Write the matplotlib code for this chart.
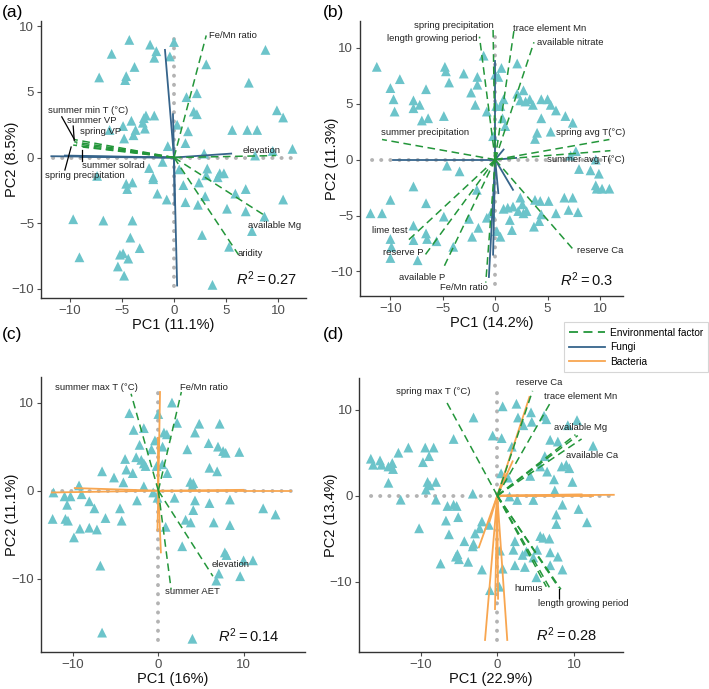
import numpy as np
import matplotlib.pyplot as plt
from matplotlib.lines import Line2D

plt.rcParams['font.family'] = ['Liberation Sans', 'DejaVu Sans']
plt.rcParams['mathtext.fontset'] = 'custom'
plt.rcParams['mathtext.rm'] = 'Liberation Sans'
plt.rcParams['mathtext.it'] = 'Liberation Sans:italic'

# ---------------- panel (a): fungi ----------------
a_pc1 = [-4.3, -2.3, 0.0, -6.0, -1.7, -1.9, -0.4, 8.8, -3.8, -7.2, -4.6, -4.7, 3.1, 7.2, 1.2, 2.2,
         1.9, 2.2, 1.35, 0.3, 1.1, -0.6, 5.6, 7.05, 8.0, 9.9, 10.5, 11.4, 9.5, 7.8, 2.9, -2.7,
         -2.9, -3.0, -1.9, -4.1, -3.7, -3.9, -2.8, -4.9, -4.8, -6.2, -1.1, -2.4, -2.0, -2.0,
         -4.6, -4.0, -4.5, -7.4, -1.6, -0.7, 0.5, 0.9, 2.4, 1.1, 2.3, 3.0, 3.2, 3.1, 4.4, 4.8,
         4.2, 5.9, 6.9, 5.1, 6.9, 10.5, 8.7, 7.5, 2.7, 5.3, 3.7, -9.7, -6.8, -4.0, -9.1, -4.2,
         -3.3, -5.2, -4.9, -4.4, -5.4, -4.8]
a_pc2 = [8.96, 8.6, 8.8, 7.9, 8.1, 7.6, 7.7, 8.2, 6.9, 6.1, 6.2, 5.9, 7.1, 5.7, 4.6, 4.9,
         3.5, 3.3, 2.0, 2.5, 1.1, 0.87, 2.1, 2.1, 2.1, 3.6, 3.05, 0.66, 0.5, 0.15, 0.3, 3.2,
         3.0, 2.65, 3.2, 2.8, 2.1, 1.7, 2.2, 2.4, 1.45, 2.1, -0.33, -0.8, -1.5, -1.65,
         -2.0, -1.9, -2.4, -1.4, -2.75, -3.2, -0.9, -2.1, -1.9, -3.4, -3.6, -2.95, -0.84, -1.35, -1.2, -1.2,
         -1.5, -2.75, -2.4, -3.9, -4.1, -3.2, -4.5, -5.6, -5.9, -6.8, -9.7, -4.7, -4.8, -4.8, -7.6, -6.1,
         -6.9, -7.4, -7.3, -7.7, -8.3, -9.0]
a_taxa_x = [-11.8, -10.5, -9.0, 5.5, -0.87, -0.1, 0.3, 0.05]
a_taxa_y = [0.1, 0.15, 0.05, 0.3, 8.2, 3.3, -9.75, -3.6]
a_env_x = [3.1, 9.8, 8.9, 6.2, -9.6, -9.6, -9.4, -8.8, -9.7]
a_env_y = [9.3, 0.15, -4.5, -7.4, 1.37, 1.2, 1.05, 0.8, 0.95]
a_env_names = ["Fe/Mn ratio", "elevation", "available Mg", "aridity", "summer min T (°C)",
               "summer VP", "spring VP", "summer solrad", "spring precipitation"]

# ---------------- panel (b): fungi ----------------
b_pc1 = [-11.3, -9.1, -10.0, -9.7, -9.6, -7.8, -7.8, -7.2, -7.0, -6.4, -6.6, -4.8, -4.7, -4.4, -3.0,
         -1.7, -1.7, -2.3, -1.9, -4.9, -1.1, -0.8, -0.2, 0.0, 0.3, 0.6, 2.1, 0.1, 0.5, 0.8, 0.7, 0.96,
         2.1, 2.7, 2.4, 2.9, 3.3, 3.6, 4.4, 5.0, 5.3, 5.8, 4.4, 5.3, 4.0, 3.8, 6.7, 7.4, 7.7, 7.2,
         8.0, 9.1, 9.6, 9.9, 9.6, 9.7, 10.2, 10.9, -4.6, -3.4, -1.75, -7.8, -10.0, -11.9, -10.8,
         -6.6, -4.9, -7.8, -7.8, -6.6, -6.5, -5.6, -10.0, -9.9, -10.0, -7.4, -4.0, -2.5, -1.6, -2.2,
         -0.8, -0.4, 0.16, 0.5, 0.8, 1.2, 1.7, 1.4, 1.6, 2.4, 2.6, 2.2, 2.7, 3.0, 3.8, 4.3, 3.7, 4.2,
         5.1, 4.4, 5.8, 6.6, 7.4, 7.0, 7.9]
b_pc2 = [8.3, 7.2, 6.4, 5.4, 4.3, 5.3, 4.6, 4.9, 3.5, 3.7, 6.3, 8.3, 7.9, 6.9, 7.7,
         7.4, 6.7, 6.0, 4.9, 3.9, 9.3, 4.3, 2.1, 7.6, 7.4, 8.2, 8.6, 4.8, 4.8, 5.4, 3.7, 3.0,
         5.9, 6.2, 5.3, 5.2, 5.4, 4.9, 5.4, 5.4, 4.9, 4.4, 3.7, 2.5, 2.4, 1.85, 3.9, 3.3, 0.75, 0.36,
         -0.84, -0.96, 0.0, -1.26, -2.3, -2.6, -2.6, -2.6, -0.54, -1.05, -2.7, -2.4, -3.6, -4.8, -4.8,
         -3.9, -5.1, -5.9, -7.2, -6.6, -7.1, -7.3, -7.1, -7.8, -8.8, -9.0, -7.8, -5.3, -6.1, -6.9,
         -5.2, -4.8, -6.4, -6.9, -4.4, -4.3, -4.2, -5.4, -6.3, -3.4, -4.0, -4.6, -4.8, -4.6, -3.6, -3.7, -6.0, -5.5,
         -3.7, -4.9, -4.8, -3.4, -3.4, -4.5, -4.7]
b_taxa_x = [-9.8, 0.0, -0.6, -0.2, 1.7, 0.8, 2.0, 0.3]
b_taxa_y = [0.0, 8.8, -10.5, -8.5, -2.7, 0.9, 0.15, -3.0]
b_env_x = [-0.2, -1.5, 1.8, 3.7, -10.8, 10.9, 11.0, 7.6, -8.4, -6.9, -5.0, -0.9]
b_env_y = [11.6, 11.0, 11.6, 10.5, 1.8, 1.8, 0.8, -8.2, -7.3, -8.8, -9.8, -11.0]
b_env_names = ["spring precipitation", "length growing period", "trace element Mn",
               "available nitrate", "summer precipitation", "spring avg T(°C)",
               "summer avg T(°C)", "reserve Ca", "lime test", "reserve P", "available P",
               "Fe/Mn ratio"]

# ---------------- panel (c): bacteria ----------------
c_pc1 = [1.6, 0.0, -3.4, 2.2, 4.8, 7.2, 4.3, 0.66, 1.0, -2.9, -1.7, -0.4, 0.5, -2.2, 5.9, 7.0,
         7.6, 7.9, 9.5, 3.4, -0.8, -3.9, -2.6, -2.0, -1.7, -1.5, -0.2, 0.47, 1.05, -3.75, -3.0,
         -6.6, -5.2, -4.1, 6.0, 6.9, 3.75, 4.1, 4.0, -1.7, -0.6, -0.1, -9.3, -12.3, -11.0, -10.3,
         -10.7, -9.0, -8.1, -7.5, -6.2, -4.5, -4.3, -12.4, -10.9, -10.6, -9.2, -8.1, -7.2, -9.9,
         -2.5, 1.9, 0.86, 2.8, 3.2, 3.8, 4.3, 4.1, 6.0, 6.5, 8.4, 8.4, 7.8, 8.0, 10.0, 11.1, 9.6,
         7.1, 6.8, 12.3, 13.75, -6.8, -6.6, 4.0]
c_pc2 = [10.0, 8.7, 8.8, 7.7, 7.6, 7.6, 6.6, 6.6, 6.4, 6.9, 7.1, 5.7, 5.0, 5.2, 5.4, 5.0,
         4.5, 4.3, 4.4, 4.7, 4.7, 3.6, 3.8, 3.5, 3.1, 2.8, 2.8, 3.0, 2.0, 2.4, 2.0,
         2.2, 1.5, 0.95, 2.6, 2.2, 1.0, 0.87, 0.57, 0.5, -0.2, -0.8, 0.6, -0.2, -0.64, -0.64,
         -1.6, -0.4, -1.2, -2.0, -3.1, -2.0, -3.4, -3.2, -3.2, -3.4, -4.3, -4.2, -4.4, -5.3,
         -1.1, -0.8, -4.1, -6.3, -3.3, -3.6, -1.1, -2.2, -1.4, -3.6, -1.0, -3.9, -7.0, -7.3, -7.9, -7.9, -9.7,
         -9.4, -10.2, -2.0, -2.7, -8.5, -16.1, -16.8]
c_taxa_x = [-12.5, -9.8, 15.6, 10.0, 0.2, 0.0, 0.3, -0.1]
c_taxa_y = [-0.2, 0.3, 0.0, 0.1, 11.2, 6.0, -7.0, -4.5]
c_env_x = [-3.2, 2.7, 6.4, 1.5]
c_env_y = [11.0, 11.2, -9.7, -11.2]
c_env_names = ["summer max T (°C)", "Fe/Mn ratio", "elevation", "summer AET"]

# ---------------- panel (d): bacteria ----------------
d_pc1 = [-16.5, -16.2, -15.3, -15.1, -14.2, -13.7, -13.6, -14.2, -12.9, -11.6, -12.6, -9.4, -8.3, -8.9,
         -9.7, -9.1, -8.8, -8.0, -9.3, -8.0, -10.2, -7.4, -5.7, -6.5, -5.7, -5.3, -6.7, -6.3, -5.1,
         -5.2, -5.4, -5.0, -4.3, -3.8, -3.1, -3.2, -3.1, -2.9, -3.2, -2.0, -2.3, -1.1, -2.0, -0.96,
         -0.6, 0.57, 0.7, 2.5, 1.9, 0.5, 1.4, 0.26, 0.35, 0.7, 1.6, 2.6, 4.7, 2.3, 2.1, 2.3, 3.3, 3.6,
         4.3, 5.6, 6.2, 6.5, 6.9, 7.9, 2.7, 3.4, 4.4, 4.5, 6.1, 6.4, 9.2, 10.4, 12.5, 8.4, 9.0, 9.4,
         9.8, 7.4, 7.5, 8.5, 10.6, 11.7, 7.7, 7.7, 5.6, 6.0, 6.8, 5.2, 6.9, 4.7, 6.9, 7.9, 8.5, 5.1, 3.8]
d_pc2 = [4.3, 3.6, 4.1, 3.6, 3.4, 3.8, 3.1, 1.5, 5.0, 5.6, -0.47, 5.6, 5.6, 4.6,
         3.9, 1.6, 1.2, 1.6, 0.7, -0.47, -3.8, -7.9, 6.6, -1.2, -1.05, -1.2, -2.9, -4.5, -2.5,
         -6.8, -7.1, -7.4, -5.3, -7.7, 9.1, 0.23, -5.6, -4.4, -5.9, -3.0, -3.8, -3.4, -8.6, -11.0,
         7.0, 6.7, 10.4, 10.7, 5.7, 2.6, 2.1, -10.6, -6.4, -8.5, -0.1, -0.5, -0.5, -5.3, -6.3, -8.1, -6.9, -8.3,
         2.3, 3.4, 4.6, 2.8, 6.5, 6.3, 9.1, 8.2, 9.7, 8.6, 9.3, 8.9, 8.2, 8.8, 5.8, 3.4, 3.6, 3.2,
         1.6, 1.9, 0.6, -1.05, -1.55, -3.1, -2.2, -3.3, -4.7, -4.9, -5.0, -6.3, -6.6, -7.2, -8.1, -7.1, -8.6, -9.5, -6.5]
d_taxa_x = [15.2, 11.0, 12.5, 4.2, 2.0, 1.2, -1.6, 1.3, -0.3, 0.1, -2.4, -1.0]
d_taxa_y = [0.1, 0.15, 0.0, 11.5, 4.0, 2.5, -16.8, -16.8, -13.2, -12.0, -6.0, -3.0]
d_env_x = [-6.8, 4.6, 7.1, 10.5, 11.0, 10.2, 7.0, 8.0, 6.4, 8.3]
d_env_y = [11.2, 12.2, 11.1, 7.0, 6.6, 7.1, -11.0, -10.7, -10.6, -10.9]
d_env_names = ["spring max T (°C)", "reserve Ca", "trace element Mn", "available Mg", "available Ca",
               "", "humus", "length growing period", "", ""]

r2_values = ["0.27", "0.3", "0.14", "0.28"]
pc1_labels = ["PC1 (11.1%)", "PC1 (14.2%)", "PC1 (16%)", "PC1 (22.9%)"]
pc2_labels = ["PC2 (8.5%)", "PC2 (11.3%)", "PC2 (11.1%)", "PC2 (13.4%)"]

# label placement (ggrepel-like) : name -> (x, y, ha)
a_lab = {"Fe/Mn ratio": (3.4, 9.3, "left"), "elevation": (6.6, 0.5, "left"),
         "available Mg": (7.15, -5.2, "left"), "aridity": (6.1, -7.3, "left"),
         "summer min T (°C)": (-12.1, 3.6, "left"), "summer VP": (-10.3, 2.8, "left"),
         "spring VP": (-9.0, 1.95, "left"), "summer solrad": (-8.9, -0.64, "left"),
         "spring precipitation": (-12.4, -1.35, "left")}
a_leaders = [((-10.8, 3.1), (-9.6, 1.4)), ((-9.7, 2.4), (-9.6, 1.3)),
             ((-10.5, -0.95), (-9.9, 0.8)), ((-8.9, -0.3), (-8.9, 0.6))]
b_lab = {"spring precipitation": (-0.1, 12.0, "right"), "length growing period": (-1.7, 10.8, "right"),
         "trace element Mn": (1.7, 11.7, "left"), "available nitrate": (4.0, 10.5, "left"),
         "summer precipitation": (-10.9, 2.4, "left"), "spring avg T(°C)": (5.8, 2.4, "left"),
         "summer avg T(°C)": (4.9, 0.0, "left"), "reserve Ca": (7.8, -8.1, "left"),
         "lime test": (-11.8, -6.3, "left"), "reserve P": (-10.7, -8.3, "left"),
         "available P": (-9.2, -10.55, "left"), "Fe/Mn ratio": (-5.3, -11.4, "left")}
c_lab = {"summer max T (°C)": (-12.1, 11.7, "left"), "Fe/Mn ratio": (2.6, 11.7, "left"),
         "elevation": (6.3, -8.4, "left"), "summer AET": (0.8, -11.4, "left")}
d_lab = {"spring max T (°C)": (-13.2, 12.1, "left"), "reserve Ca": (2.4, 13.2, "left"),
         "trace element Mn": (6.1, 11.6, "left"), "available Mg": (7.4, 7.9, "left"),
         "available Ca": (9.0, 4.7, "left"), "humus": (2.2, -10.8, "left"),
         "length growing period": (5.3, -12.5, "left")}
d_leaders = [((8.0, -10.9), (8.0, -11.9))]

GREEN = "#23963a"
BLUE = "#36648b"
ORANGE = "#f8a650"
POINT = "#6cc4ca"

fig = plt.figure(figsize=(7.09, 6.89), dpi=100)
boxes = [[0.0578, 0.5675, 0.3738, 0.4020], [0.5078, 0.5704, 0.3709, 0.3991],
         [0.0574, 0.0537, 0.3727, 0.3991], [0.5068, 0.0537, 0.3719, 0.3977]]
lims = [((-12.8, 12.7), (-10.7, 10.4)), ((-12.9, 12.2), (-12.2, 12.4)),
        ((-13.8, 17.2), (-18.3, 12.9)), ((-18.0, 16.4), (-18.2, 13.7))]
ticks = [[-10, -5, 0, 5, 10], [-10, -5, 0, 5, 10], [-10, 0, 10], [-10, 0, 10]]

panels = [
    (a_pc1, a_pc2, a_taxa_x, a_taxa_y, BLUE, a_env_x, a_env_y, a_env_names, a_lab, a_leaders),
    (b_pc1, b_pc2, b_taxa_x, b_taxa_y, BLUE, b_env_x, b_env_y, b_env_names, b_lab, []),
    (c_pc1, c_pc2, c_taxa_x, c_taxa_y, ORANGE, c_env_x, c_env_y, c_env_names, c_lab, []),
    (d_pc1, d_pc2, d_taxa_x, d_taxa_y, ORANGE, d_env_x, d_env_y, d_env_names, d_lab, d_leaders),
]
r2_pos = [(8.9, -9.2), (8.7, -10.7), (10.6, -16.4), (9.0, -16.2)]

W, H = 709, 689
for i, (px, py, tx, ty, tcol, ex, ey, en, lab, leaders) in enumerate(panels):
    ax = fig.add_axes(boxes[i])
    xl, yl = lims[i]
    ax.set_xlim(xl)
    ax.set_ylim(yl)
    dx = (xl[1] - xl[0]) * 0.045
    dy = (yl[1] - yl[0]) * 0.045
    dot = dict(color="#b3b3b3", lw=2.8, ls=(0, (0.05, 2.3)), dash_capstyle="round", zorder=1)
    ax.plot([xl[0] + dx, xl[1] - dx], [0, 0], **dot)
    ax.plot([0, 0], [yl[0] + dy, yl[1] - dy], **dot)

    ax.scatter(px, py, marker="^", s=50, color=POINT, edgecolors="none", zorder=2)

    for x, y in zip(tx, ty):
        ax.plot([0, x], [0, y], color=tcol, lw=1.3, zorder=3)
    for x, y in zip(ex, ey):
        ax.plot([0, x], [0, y], color=GREEN, lw=1.1, dashes=(5, 3), zorder=4)

    for name, (lx, ly, ha) in lab.items():
        ax.text(lx, ly, name, fontsize=6.8, ha=ha, va="center", color="#222222", zorder=5)
    for (x0, y0), (x1, y1) in leaders:
        ax.plot([x0, x1], [y0, y1], color="black", lw=0.9, zorder=5)

    rx, ry = r2_pos[i]
    ax.text(rx, ry, r"$R^2 = $" + r2_values[i], fontsize=10.5, ha="center", va="center", color="#111111")

    ax.set_xticks(ticks[i])
    ax.set_yticks(ticks[i])
    ax.set_xticklabels(["\u2212%d" % -t if t < 0 else str(t) for t in ticks[i]])
    ax.set_yticklabels(["\u2212%d" % -t if t < 0 else str(t) for t in ticks[i]])
    ax.tick_params(labelsize=9.5, colors="#4d4d4d", length=3, width=0.8, pad=2)
    for s in ["top", "right"]:
        ax.spines[s].set_visible(False)
    for s in ["left", "bottom"]:
        ax.spines[s].set_color("#333333")
        ax.spines[s].set_linewidth(1.0)
    ax.set_xlabel(pc1_labels[i], fontsize=10.5, color="#111111")
    ax.set_ylabel(pc2_labels[i], fontsize=10.5, color="#111111")
    wpx = boxes[i][2] * W
    hpx = boxes[i][3] * H
    ax.yaxis.set_label_coords(-28.5 / wpx, 0.5)
    ax.yaxis.label.set_va("center")
    ax.xaxis.set_label_coords(0.5, -27.0 / hpx)
    ax.xaxis.label.set_va("center")

for lbl, (fx, fy) in zip(["(a)", "(b)", "(c)", "(d)"],
                         [(0.002, 0.982), (0.455, 0.982), (0.002, 0.515), (0.455, 0.515)]):
    fig.text(fx, fy, lbl, fontsize=12.5, ha="left", va="center")

handles = [Line2D([], [], color=GREEN, lw=1.3, dashes=(5, 3)),
           Line2D([], [], color=BLUE, lw=1.3),
           Line2D([], [], color=ORANGE, lw=1.3)]
leg = fig.legend(handles, ["Environmental factor", "Fungi", "Bacteria"], loc="upper right",
                 bbox_to_anchor=(0.999, 0.532), fontsize=7.3, frameon=True, fancybox=False,
                 handlelength=3.5, borderpad=0.5, labelspacing=0.45, handletextpad=0.5,
                 borderaxespad=0)
leg.get_frame().set_edgecolor("#cccccc")
leg.get_frame().set_linewidth(0.8)

fig.savefig("out.png", dpi=100)
